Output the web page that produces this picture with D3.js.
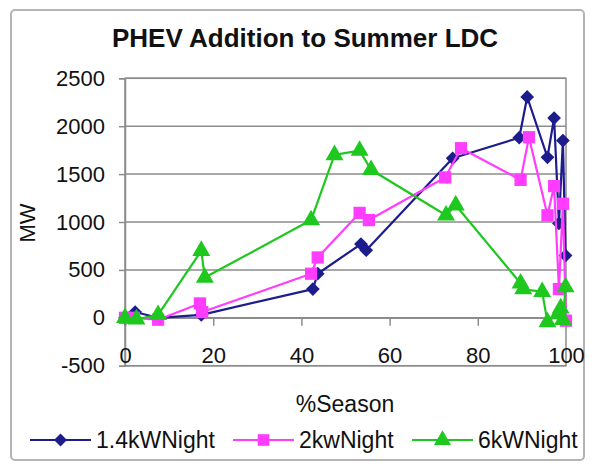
<!DOCTYPE html>
<html>
<head>
<meta charset="utf-8">
<script src="https://cdn.jsdelivr.net/npm/d3@7"></script>
<style>
  html, body { margin: 0; padding: 0; background: #fff; }
  svg { display: block; font-family: "Liberation Sans", Arial, sans-serif; }
</style>
</head>
<body>
<svg id="chart" width="594" height="466"></svg>
<script>
// ---- data ----
const seriesNames = ["1.4kWNight", "2kwNight", "6kWNight"];
const pct1 = [0, 2.3, 7.5, 17.3, 42.6, 43.7, 53.5, 54.7, 74.3, 89.4, 91.2, 95.8, 97.3, 98.4, 99.3, 99.9];
const mw1  = [0, 60, 0, 30, 300, 460, 770, 705, 1665, 1880, 2305, 1675, 2085, 985, 1850, 650];
const pct2 = [0, 2, 7.5, 17, 17.5, 42.2, 43.7, 53.2, 55.3, 72.6, 76.2, 89.7, 91.6, 95.8, 97.3, 98.4, 99.3, 100];
const mw2  = [0, 0, -20, 150, 60, 460, 630, 1095, 1020, 1465, 1770, 1440, 1885, 1070, 1375, 300, 1190, -30];
const pct3 = [0, 2.6, 7.5, 17.3, 18.1, 42.2, 47.5, 53.2, 55.8, 72.8, 75, 89.7, 90.3, 94.6, 95.8, 98.2, 98.8, 99.3, 99.9];
const mw3  = [0, -15, 30, 700, 420, 1020, 1700, 1745, 1545, 1070, 1175, 360, 300, 270, -45, 40, 100, -20, 320];
const xTicks = [0, 20, 40, 60, 80, 100];
const yTicks = [-500, 0, 500, 1000, 1500, 2000, 2500];
const titleText = "PHEV Addition to Summer LDC";
const xTitle = "%Season";
const yTitle = "MW";

// ---- styles ----
const colors = ["#1c1c8c", "#ff3cff", "#1ec81e"];
const symbols = [d3.symbolDiamond2, d3.symbolSquare, d3.symbolTriangle];
const symSizes = [120, 150, 140];

const svg = d3.select("#chart");
const L = 125, R = 566, T = 78.3, B = 365.7;

const x = d3.scaleLinear().domain([0, 100]).range([L, R]);
const y = d3.scaleLinear().domain([-500, 2500]).range([B, T]);
const fmt = d => String(d); // plain hyphen-minus as in the reference

// outer frame
svg.append("rect").attr("x", 11).attr("y", 10).attr("width", 573).attr("height", 450)
  .attr("rx", 4).attr("fill", "#fff").attr("stroke", "#b4b4b4").attr("stroke-width", 2);

// title
svg.append("text").attr("x", 305).attr("y", 47).attr("text-anchor", "middle")
  .attr("font-size", 26).attr("font-weight", "bold").attr("fill", "#111").text(titleText);

// gridlines
svg.append("g").selectAll("line").data(yTicks).join("line")
  .attr("x1", L).attr("x2", R).attr("y1", d => y(d)).attr("y2", d => y(d))
  .attr("stroke", "#8c8c8c").attr("stroke-width", 1.5);

// plot border
svg.append("rect").attr("x", L).attr("y", T).attr("width", R - L).attr("height", B - T)
  .attr("fill", "none").attr("stroke", "#8c8c8c").attr("stroke-width", 1.5);

// y axis
const yAxis = svg.append("g").attr("transform", `translate(${L},0)`)
  .call(d3.axisLeft(y).tickValues(yTicks).tickSize(6).tickPadding(14).tickFormat(fmt));
yAxis.select(".domain").attr("stroke", "#8c8c8c").attr("stroke-width", 1.5);
yAxis.selectAll(".tick line").attr("stroke", "#8c8c8c").attr("stroke-width", 1.5);
yAxis.selectAll("text").attr("font-size", 22).attr("fill", "#111")
  .attr("font-family", "'Liberation Sans', Arial, sans-serif");

// x axis at y=0
const xAxis = svg.append("g").attr("transform", `translate(0,${y(0)})`)
  .call(d3.axisBottom(x).tickValues(xTicks).tickSize(8).tickPadding(22).tickFormat(fmt));
xAxis.select(".domain").attr("stroke", "#8c8c8c").attr("stroke-width", 1.5);
xAxis.selectAll(".tick line").attr("stroke", "#8c8c8c").attr("stroke-width", 1.5);
xAxis.selectAll("text").attr("font-size", 22).attr("fill", "#111")
  .attr("font-family", "'Liberation Sans', Arial, sans-serif");

// axis titles
svg.append("text").attr("x", 345).attr("y", 412).attr("text-anchor", "middle")
  .attr("font-size", 23).attr("fill", "#111").text(xTitle);
svg.append("text").attr("transform", "translate(35,223) rotate(-90)").attr("text-anchor", "middle")
  .attr("font-size", 22).attr("fill", "#111").text(yTitle);

// series
const series = [
  pct1.map((p, i) => [p, mw1[i]]),
  pct2.map((p, i) => [p, mw2[i]]),
  pct3.map((p, i) => [p, mw3[i]])
];
const line = d3.line().x(d => x(d[0])).y(d => y(d[1]));
series.forEach((s, k) => {
  const g = svg.append("g");
  g.append("path").attr("d", line(s)).attr("fill", "none")
    .attr("stroke", colors[k]).attr("stroke-width", 2.2).attr("stroke-linejoin", "round");
  g.selectAll("path.m").data(s).join("path").attr("class", "m")
    .attr("transform", d => `translate(${x(d[0])},${y(d[1])})`)
    .attr("d", d3.symbol().type(symbols[k]).size(symSizes[k]))
    .attr("fill", colors[k]);
});

// legend
const legendX = [30, 233, 412];
const legend = svg.append("g");
seriesNames.forEach((n, k) => {
  const lx = legendX[k], ly = 440;
  legend.append("line").attr("x1", lx).attr("x2", lx + 61).attr("y1", ly).attr("y2", ly)
    .attr("stroke", colors[k]).attr("stroke-width", 2.2);
  legend.append("path").attr("transform", `translate(${lx + 30.5},${ly})`)
    .attr("d", d3.symbol().type(symbols[k]).size(symSizes[k] * 0.9)).attr("fill", colors[k]);
  legend.append("text").attr("x", lx + 66).attr("y", ly + 8).attr("font-size", 23)
    .attr("fill", "#111").text(n);
});
</script>
</body>
</html>
